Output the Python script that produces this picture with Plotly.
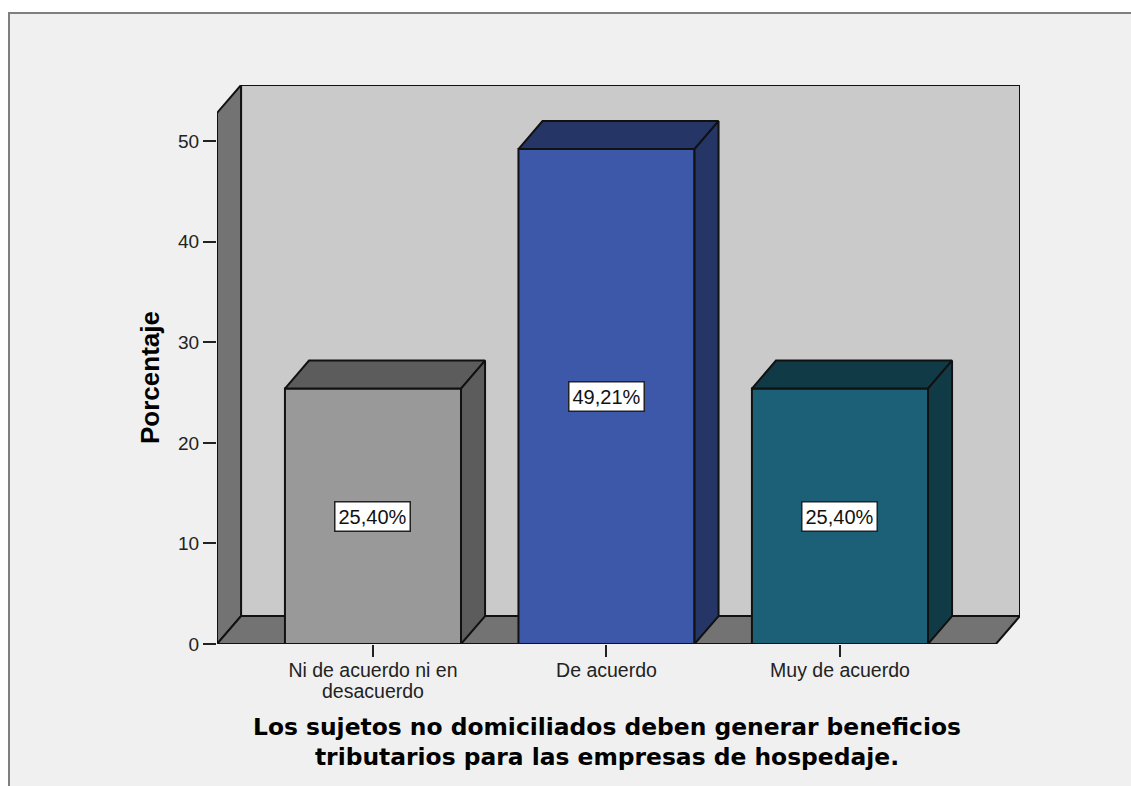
import plotly.graph_objects as go

# first line goes on the tick, the wrapped line is placed by hand
categories = ['Ni de acuerdo ni en', 'De acuerdo', 'Muy de acuerdo']
category_wrap = ['desacuerdo', '', '']
percentages = [25.40, 49.21, 25.40]
bar_labels = ['25,40%', '49,21%', '25,40%']
front_colors = ['#999999', '#3d58a9', '#1c6077']
side_colors = ['#5c5c5c', '#253566', '#113a47']
y_ticks = [0, 10, 20, 30, 40, 50]
x_title = ('Los sujetos no domiciliados deben generar beneficios<br>'
           'tributarios para las empresas de hospedaje.')
y_title = 'Porcentaje'

# fake 3d box, depth is given in axis units
bar_width = 0.754
depth_x = 0.103
depth_y = 2.78
x_min = -0.668
x_front = 2.668
y_top = 52.8

PLOT_L = 217
PLOT_T = 85
PLOT_W = 803
PLOT_H = 559
OUTLINE = dict(color='#111111', width=2)


def paper_x(px):
    return (px - PLOT_L) / PLOT_W


def paper_y(px):
    return (PLOT_T + PLOT_H - px) / PLOT_H


fig = go.Figure()

# front faces
fig.add_trace(go.Bar(
    x=[0, 1, 2],
    y=percentages,
    width=bar_width,
    marker=dict(color=front_colors, line=dict(color='#111111', width=2)),
    cliponaxis=False,
    hoverinfo='skip',
))

# top and side of each bar
for i, value in enumerate(percentages):
    left = i - bar_width / 2
    right = i + bar_width / 2
    fig.add_trace(go.Scatter(
        x=[left, left + depth_x, right + depth_x, right, left],
        y=[value, value + depth_y, value + depth_y, value, value],
        mode='lines', fill='toself', fillcolor=side_colors[i],
        line=OUTLINE, cliponaxis=False, hoverinfo='skip',
    ))
    fig.add_trace(go.Scatter(
        x=[right, right + depth_x, right + depth_x, right, right],
        y=[0, depth_y, value + depth_y, value, 0],
        mode='lines', fill='toself', fillcolor=side_colors[i],
        line=OUTLINE, cliponaxis=False, hoverinfo='skip',
    ))


def wall(xs, ys, color):
    path = 'M ' + ' L '.join(f'{x},{y}' for x, y in zip(xs, ys)) + ' Z'
    return dict(type='path', path=path, xref='x', yref='y', layer='below',
                fillcolor=color, line=OUTLINE)


back = x_front + depth_x
shapes = [
    # window frame behind the chart
    dict(type='rect', xref='paper', yref='paper', layer='below',
         x0=paper_x(9), x1=paper_x(1200), y0=paper_y(850), y1=paper_y(13),
         fillcolor='#f0f0f0', line=dict(color='#7f7f7f', width=2)),
    wall([x_min + depth_x, back, back, x_min + depth_x],
         [depth_y, depth_y, y_top + depth_y, y_top + depth_y], '#cacaca'),
    wall([x_min, x_min + depth_x, x_min + depth_x, x_min],
         [0, depth_y, y_top + depth_y, y_top], '#737373'),
    wall([x_min, x_front, back, x_min + depth_x],
         [0, 0, depth_y, depth_y], '#737373'),
]

annotations = [
    dict(x=i, y=value / 2, xref='x', yref='y', text=bar_labels[i], showarrow=False,
         xanchor='center', yanchor='middle',
         font=dict(family='Liberation Sans', size=20, color='#111111'),
         bgcolor='white', bordercolor='#222222', borderwidth=1.5, borderpad=3)
    for i, value in enumerate(percentages)
]
for i, text in enumerate(category_wrap):
    if text:
        annotations.append(dict(
            x=i, y=paper_y(691), xref='x', yref='paper', text=text, showarrow=False,
            xanchor='center', yanchor='middle',
            font=dict(family='Liberation Sans', size=19.5, color='#222222'),
        ))
annotations.append(dict(
    x=paper_x(607), y=paper_y(742), xref='paper', yref='paper', text=x_title,
    showarrow=False, xanchor='center', yanchor='middle',
    font=dict(family='DejaVu Sans', size=23.4, color='#000000', weight='bold'),
))
annotations.append(dict(
    x=paper_x(150), y=paper_y(378), xref='paper', yref='paper',
    text=y_title, textangle=-90, showarrow=False, xanchor='center', yanchor='middle',
    font=dict(family='Liberation Sans', size=26, color='#000000', weight='bold'),
))

fig.update_layout(
    width=1131,
    height=786,
    autosize=False,
    showlegend=False,
    paper_bgcolor='white',
    plot_bgcolor='rgba(0,0,0,0)',
    margin=dict(l=PLOT_L, r=1131 - PLOT_L - PLOT_W, t=PLOT_T, b=786 - PLOT_T - PLOT_H),
    font=dict(family='Liberation Sans', color='#222222'),
    shapes=shapes,
    annotations=annotations,
    xaxis=dict(
        range=[x_min, back],
        tickmode='array', tickvals=[0, 1, 2], ticktext=categories,
        ticks='outside', ticklen=12, tickwidth=2, tickcolor='#222222',
        tickfont=dict(size=19.5), ticklabelstandoff=-3,
        showgrid=False, zeroline=False, showline=False,
    ),
    yaxis=dict(
        range=[0, y_top + depth_y],
        tickmode='array', tickvals=y_ticks,
        ticks='outside', ticklen=13, tickwidth=2, tickcolor='#222222',
        tickfont=dict(size=19), showgrid=False, zeroline=False, showline=False,
    ),
)

# drop the default body margin so the figure fills the whole window
fig.write_html('out.html', default_width='1131px', default_height='786px',
               config={'displayModeBar': False},
               post_script="document.body.style.margin='0';document.documentElement.style.overflow='hidden';")
